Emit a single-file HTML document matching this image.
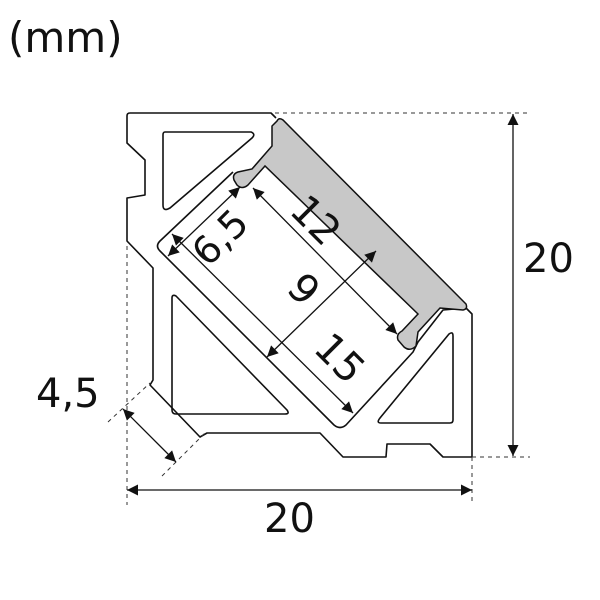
<!DOCTYPE html>
<html><head><meta charset="utf-8"><style>
html,body{margin:0;padding:0;background:#fff;width:600px;height:600px;overflow:hidden}
svg{display:block}
text{font-family:"DejaVu Sans","Liberation Sans",sans-serif;fill:#111}
</style></head><body>
<svg width="600" height="600" viewBox="0 0 600 600" xmlns="http://www.w3.org/2000/svg">
<defs>
<marker id="a" viewBox="0 0 10 10" refX="10" refY="5" markerWidth="12" markerHeight="11" orient="auto-start-reverse" markerUnits="userSpaceOnUse"><path d="M0,0 L10,5 L0,10 z" fill="#111"/></marker>
</defs>
<text x="8" y="52" font-size="42">(mm)</text>
<g fill="none" stroke="#111" stroke-width="1.6" stroke-linejoin="round">
<path d="M276,118 L271,113 L130,113 Q127,113 127,116 L127,143 L145,160 L145,195 L127,198 L127,241 L153,268 L153,380 L150,385 L200,437 L207,433 L320,433 L343,457 L386,457 L387,444 L430,444 L443,457 L472,457 L472,314 L466,308 L443,310 L418,342 L413,352 L346,425 Q340,430 334,425 L160,251 Q155,246 160,241 L233,172"/>
<path d="M265,166 L283,162 L425,302 L418,330"/>
<path d="M165,132 L251,132 Q256,134 252,138 L170,208 Q163,212 163,205 L163,135 Q163,132 165,132 Z"/>
<path d="M172,298 Q172,294 176,296 L287,410 Q290,414 285,414 L176,414 Q172,414 172,410 Z"/>
<path d="M453,336 Q453,331 449,334 L380,418 Q376,423 381,423 L450,423 Q453,423 453,420 Z"/>
</g>
<path d="M277,121 Q279,117 283,120 L466,304 Q468,309 463,310 L440,308 L418,332 L416,346 Q410,352 404,347 L398,340 Q396,334 402,331 L418,314 L265,166 L248,185 Q242,190 237,185 L234,180 Q232,174 238,172 L252,169 L272,146 L272,126 Z" fill="#c8c8c8" stroke="#111" stroke-width="1.5"/>
<g stroke="#333" stroke-width="1" stroke-dasharray="4,4" fill="none">
<line x1="275" y1="113" x2="530" y2="113"/>
<line x1="472" y1="457" x2="530" y2="457"/>
<line x1="127" y1="246" x2="127" y2="505"/>
<line x1="472" y1="457" x2="472" y2="505"/>
<line x1="108" y1="422" x2="150" y2="383"/>
<line x1="162" y1="476" x2="205" y2="433"/>
</g>
<g stroke="#111" stroke-width="1.3" fill="none" marker-start="url(#a)" marker-end="url(#a)">
<line x1="127" y1="490" x2="472" y2="490"/>
<line x1="513" y1="114" x2="513" y2="456"/>
<line x1="123" y1="409" x2="176" y2="462"/>
<line x1="168" y1="256" x2="240" y2="187"/>
<line x1="253" y1="188" x2="397" y2="334"/>
<line x1="376" y1="251" x2="267" y2="357"/>
<line x1="172" y1="234" x2="353" y2="413"/>
</g>
<text x="523" y="272" font-size="40">20</text>
<text x="264" y="532" font-size="40">20</text>
<text x="36" y="407" font-size="40">4,5</text>
<text font-size="38" transform="translate(208,268) rotate(-45)">6,5</text>
<text font-size="40" transform="translate(288,212) rotate(45)">12</text>
<text font-size="40" transform="translate(285,290) rotate(45)">9</text>
<text font-size="40" transform="translate(312,350) rotate(45)">15</text>
</svg>
</body></html>
